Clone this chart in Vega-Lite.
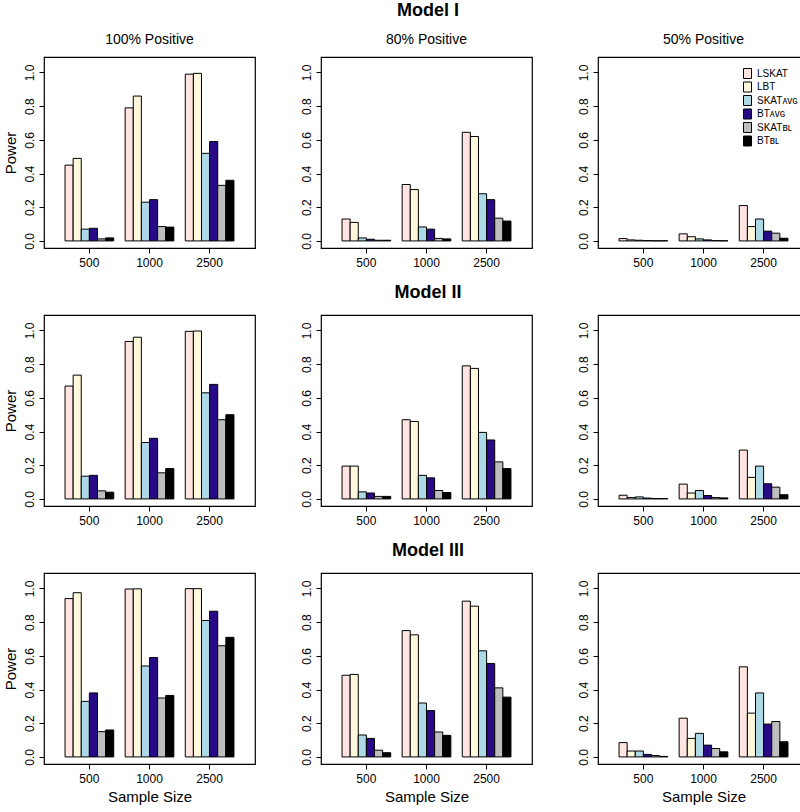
{
  "$schema": "https://vega.github.io/schema/vega-lite/v6.json",
  "padding": {"left": 2, "top": 2, "right": 2, "bottom": 2},
  "background": "white",
  "datasets": {
    "I_100": [
      {"size": 500, "test": "LSKAT", "power": 0.45}, {"size": 500, "test": "LBT", "power": 0.49}, {"size": 500, "test": "SKAT_AVG", "power": 0.07}, {"size": 500, "test": "BT_AVG", "power": 0.075}, {"size": 500, "test": "SKAT_BL", "power": 0.012}, {"size": 500, "test": "BT_BL", "power": 0.018},
      {"size": 1000, "test": "LSKAT", "power": 0.79}, {"size": 1000, "test": "LBT", "power": 0.86}, {"size": 1000, "test": "SKAT_AVG", "power": 0.23}, {"size": 1000, "test": "BT_AVG", "power": 0.245}, {"size": 1000, "test": "SKAT_BL", "power": 0.085}, {"size": 1000, "test": "BT_BL", "power": 0.082},
      {"size": 2500, "test": "LSKAT", "power": 0.99}, {"size": 2500, "test": "LBT", "power": 0.995}, {"size": 2500, "test": "SKAT_AVG", "power": 0.52}, {"size": 2500, "test": "BT_AVG", "power": 0.59}, {"size": 2500, "test": "SKAT_BL", "power": 0.33}, {"size": 2500, "test": "BT_BL", "power": 0.36}
    ],
    "I_80": [
      {"size": 500, "test": "LSKAT", "power": 0.13}, {"size": 500, "test": "LBT", "power": 0.11}, {"size": 500, "test": "SKAT_AVG", "power": 0.018}, {"size": 500, "test": "BT_AVG", "power": 0.01}, {"size": 500, "test": "SKAT_BL", "power": 0.004}, {"size": 500, "test": "BT_BL", "power": 0.004},
      {"size": 1000, "test": "LSKAT", "power": 0.335}, {"size": 1000, "test": "LBT", "power": 0.305}, {"size": 1000, "test": "SKAT_AVG", "power": 0.083}, {"size": 1000, "test": "BT_AVG", "power": 0.07}, {"size": 1000, "test": "SKAT_BL", "power": 0.015}, {"size": 1000, "test": "BT_BL", "power": 0.012},
      {"size": 2500, "test": "LSKAT", "power": 0.645}, {"size": 2500, "test": "LBT", "power": 0.62}, {"size": 2500, "test": "SKAT_AVG", "power": 0.28}, {"size": 2500, "test": "BT_AVG", "power": 0.245}, {"size": 2500, "test": "SKAT_BL", "power": 0.135}, {"size": 2500, "test": "BT_BL", "power": 0.118}
    ],
    "I_50": [
      {"size": 500, "test": "LSKAT", "power": 0.014}, {"size": 500, "test": "LBT", "power": 0.006}, {"size": 500, "test": "SKAT_AVG", "power": 0.004}, {"size": 500, "test": "BT_AVG", "power": 0.002}, {"size": 500, "test": "SKAT_BL", "power": 0.001}, {"size": 500, "test": "BT_BL", "power": 0.001},
      {"size": 1000, "test": "LSKAT", "power": 0.042}, {"size": 1000, "test": "LBT", "power": 0.025}, {"size": 1000, "test": "SKAT_AVG", "power": 0.012}, {"size": 1000, "test": "BT_AVG", "power": 0.006}, {"size": 1000, "test": "SKAT_BL", "power": 0.002}, {"size": 1000, "test": "BT_BL", "power": 0.001},
      {"size": 2500, "test": "LSKAT", "power": 0.21}, {"size": 2500, "test": "LBT", "power": 0.085}, {"size": 2500, "test": "SKAT_AVG", "power": 0.13}, {"size": 2500, "test": "BT_AVG", "power": 0.058}, {"size": 2500, "test": "SKAT_BL", "power": 0.046}, {"size": 2500, "test": "BT_BL", "power": 0.016}
    ],
    "II_100": [
      {"size": 500, "test": "LSKAT", "power": 0.67}, {"size": 500, "test": "LBT", "power": 0.735}, {"size": 500, "test": "SKAT_AVG", "power": 0.135}, {"size": 500, "test": "BT_AVG", "power": 0.14}, {"size": 500, "test": "SKAT_BL", "power": 0.048}, {"size": 500, "test": "BT_BL", "power": 0.04},
      {"size": 1000, "test": "LSKAT", "power": 0.935}, {"size": 1000, "test": "LBT", "power": 0.96}, {"size": 1000, "test": "SKAT_AVG", "power": 0.335}, {"size": 1000, "test": "BT_AVG", "power": 0.36}, {"size": 1000, "test": "SKAT_BL", "power": 0.155}, {"size": 1000, "test": "BT_BL", "power": 0.18},
      {"size": 2500, "test": "LSKAT", "power": 0.995}, {"size": 2500, "test": "LBT", "power": 0.997}, {"size": 2500, "test": "SKAT_AVG", "power": 0.63}, {"size": 2500, "test": "BT_AVG", "power": 0.68}, {"size": 2500, "test": "SKAT_BL", "power": 0.47}, {"size": 2500, "test": "BT_BL", "power": 0.5}
    ],
    "II_80": [
      {"size": 500, "test": "LSKAT", "power": 0.195}, {"size": 500, "test": "LBT", "power": 0.195}, {"size": 500, "test": "SKAT_AVG", "power": 0.042}, {"size": 500, "test": "BT_AVG", "power": 0.035}, {"size": 500, "test": "SKAT_BL", "power": 0.015}, {"size": 500, "test": "BT_BL", "power": 0.015},
      {"size": 1000, "test": "LSKAT", "power": 0.47}, {"size": 1000, "test": "LBT", "power": 0.46}, {"size": 1000, "test": "SKAT_AVG", "power": 0.14}, {"size": 1000, "test": "BT_AVG", "power": 0.125}, {"size": 1000, "test": "SKAT_BL", "power": 0.05}, {"size": 1000, "test": "BT_BL", "power": 0.038},
      {"size": 2500, "test": "LSKAT", "power": 0.79}, {"size": 2500, "test": "LBT", "power": 0.775}, {"size": 2500, "test": "SKAT_AVG", "power": 0.395}, {"size": 2500, "test": "BT_AVG", "power": 0.35}, {"size": 2500, "test": "SKAT_BL", "power": 0.22}, {"size": 2500, "test": "BT_BL", "power": 0.18}
    ],
    "II_50": [
      {"size": 500, "test": "LSKAT", "power": 0.022}, {"size": 500, "test": "LBT", "power": 0.008}, {"size": 500, "test": "SKAT_AVG", "power": 0.012}, {"size": 500, "test": "BT_AVG", "power": 0.005}, {"size": 500, "test": "SKAT_BL", "power": 0.002}, {"size": 500, "test": "BT_BL", "power": 0.002},
      {"size": 1000, "test": "LSKAT", "power": 0.088}, {"size": 1000, "test": "LBT", "power": 0.035}, {"size": 1000, "test": "SKAT_AVG", "power": 0.05}, {"size": 1000, "test": "BT_AVG", "power": 0.02}, {"size": 1000, "test": "SKAT_BL", "power": 0.008}, {"size": 1000, "test": "BT_BL", "power": 0.006},
      {"size": 2500, "test": "LSKAT", "power": 0.29}, {"size": 2500, "test": "LBT", "power": 0.128}, {"size": 2500, "test": "SKAT_AVG", "power": 0.195}, {"size": 2500, "test": "BT_AVG", "power": 0.09}, {"size": 2500, "test": "SKAT_BL", "power": 0.07}, {"size": 2500, "test": "BT_BL", "power": 0.025}
    ],
    "III_100": [
      {"size": 500, "test": "LSKAT", "power": 0.94}, {"size": 500, "test": "LBT", "power": 0.975}, {"size": 500, "test": "SKAT_AVG", "power": 0.33}, {"size": 500, "test": "BT_AVG", "power": 0.38}, {"size": 500, "test": "SKAT_BL", "power": 0.15}, {"size": 500, "test": "BT_BL", "power": 0.16},
      {"size": 1000, "test": "LSKAT", "power": 0.997}, {"size": 1000, "test": "LBT", "power": 0.998}, {"size": 1000, "test": "SKAT_AVG", "power": 0.54}, {"size": 1000, "test": "BT_AVG", "power": 0.59}, {"size": 1000, "test": "SKAT_BL", "power": 0.35}, {"size": 1000, "test": "BT_BL", "power": 0.365},
      {"size": 2500, "test": "LSKAT", "power": 0.999}, {"size": 2500, "test": "LBT", "power": 0.999}, {"size": 2500, "test": "SKAT_AVG", "power": 0.81}, {"size": 2500, "test": "BT_AVG", "power": 0.865}, {"size": 2500, "test": "SKAT_BL", "power": 0.66}, {"size": 2500, "test": "BT_BL", "power": 0.71}
    ],
    "III_80": [
      {"size": 500, "test": "LSKAT", "power": 0.485}, {"size": 500, "test": "LBT", "power": 0.49}, {"size": 500, "test": "SKAT_AVG", "power": 0.13}, {"size": 500, "test": "BT_AVG", "power": 0.11}, {"size": 500, "test": "SKAT_BL", "power": 0.04}, {"size": 500, "test": "BT_BL", "power": 0.025},
      {"size": 1000, "test": "LSKAT", "power": 0.75}, {"size": 1000, "test": "LBT", "power": 0.725}, {"size": 1000, "test": "SKAT_AVG", "power": 0.32}, {"size": 1000, "test": "BT_AVG", "power": 0.275}, {"size": 1000, "test": "SKAT_BL", "power": 0.148}, {"size": 1000, "test": "BT_BL", "power": 0.128},
      {"size": 2500, "test": "LSKAT", "power": 0.925}, {"size": 2500, "test": "LBT", "power": 0.895}, {"size": 2500, "test": "SKAT_AVG", "power": 0.63}, {"size": 2500, "test": "BT_AVG", "power": 0.555}, {"size": 2500, "test": "SKAT_BL", "power": 0.41}, {"size": 2500, "test": "BT_BL", "power": 0.355}
    ],
    "III_50": [
      {"size": 500, "test": "LSKAT", "power": 0.085}, {"size": 500, "test": "LBT", "power": 0.035}, {"size": 500, "test": "SKAT_AVG", "power": 0.035}, {"size": 500, "test": "BT_AVG", "power": 0.015}, {"size": 500, "test": "SKAT_BL", "power": 0.008}, {"size": 500, "test": "BT_BL", "power": 0.003},
      {"size": 1000, "test": "LSKAT", "power": 0.23}, {"size": 1000, "test": "LBT", "power": 0.11}, {"size": 1000, "test": "SKAT_AVG", "power": 0.14}, {"size": 1000, "test": "BT_AVG", "power": 0.07}, {"size": 1000, "test": "SKAT_BL", "power": 0.05}, {"size": 1000, "test": "BT_BL", "power": 0.03},
      {"size": 2500, "test": "LSKAT", "power": 0.535}, {"size": 2500, "test": "LBT", "power": 0.26}, {"size": 2500, "test": "SKAT_AVG", "power": 0.38}, {"size": 2500, "test": "BT_AVG", "power": 0.195}, {"size": 2500, "test": "SKAT_BL", "power": 0.21}, {"size": 2500, "test": "BT_BL", "power": 0.09}
    ]
  },
  "resolve": {"scale": {"color": "independent"}, "legend": {"color": "independent"}},
  "spacing": 15,
  "vconcat": [
    {
      "title": {"text": "Model I", "fontSize": 18, "fontWeight": "bold", "anchor": "middle", "offset": 12, "dx": 22},
      "spacing": 43,
      "resolve": {"scale": {"color": "independent"}, "legend": {"color": "independent"}},
      "hconcat": [
        {"title": "100% Positive", "width": 211, "height": 191, "data": {"name": "I_100"},
         "mark": {"type": "bar", "stroke": "black", "strokeWidth": 1},
         "encoding": {
           "x": {"field": "size", "type": "ordinal", "sort": [500, 1000, 2500], "scale": {"paddingInner": 0.19, "paddingOuter": 0.35}, "axis": {"title": null}},
           "xOffset": {"field": "test", "type": "nominal", "scale": {"domain": ["LSKAT", "LBT", "SKAT_AVG", "BT_AVG", "SKAT_BL", "BT_BL"], "paddingInner": 0, "paddingOuter": 0}},
           "y": {"field": "power", "type": "quantitative", "scale": {"domain": [-0.042, 1.092], "nice": false, "zero": false}, "axis": {"title": "Power"}},
           "y2": {"datum": 0},
           "color": {"field": "test", "type": "nominal", "scale": {"domain": ["LSKAT", "LBT", "SKAT_AVG", "BT_AVG", "SKAT_BL", "BT_BL"], "range": ["#FFE4E1", "#FFF8DC", "#ADD8E6", "#280A86", "#BEBEBE", "#000000"]}, "legend": null}
         }},
        {"title": "80% Positive", "width": 211, "height": 191, "data": {"name": "I_80"},
         "mark": {"type": "bar", "stroke": "black", "strokeWidth": 1},
         "encoding": {
           "x": {"field": "size", "type": "ordinal", "sort": [500, 1000, 2500], "scale": {"paddingInner": 0.19, "paddingOuter": 0.35}, "axis": {"title": null}},
           "xOffset": {"field": "test", "type": "nominal", "scale": {"domain": ["LSKAT", "LBT", "SKAT_AVG", "BT_AVG", "SKAT_BL", "BT_BL"], "paddingInner": 0, "paddingOuter": 0}},
           "y": {"field": "power", "type": "quantitative", "scale": {"domain": [-0.042, 1.092], "nice": false, "zero": false}, "axis": {"title": null}},
           "y2": {"datum": 0},
           "color": {"field": "test", "type": "nominal", "scale": {"domain": ["LSKAT", "LBT", "SKAT_AVG", "BT_AVG", "SKAT_BL", "BT_BL"], "range": ["#FFE4E1", "#FFF8DC", "#ADD8E6", "#280A86", "#BEBEBE", "#000000"]}, "legend": null}
         }},
        {"title": "50% Positive", "width": 211, "height": 191, "data": {"name": "I_50"},
         "mark": {"type": "bar", "stroke": "black", "strokeWidth": 1},
         "encoding": {
           "x": {"field": "size", "type": "ordinal", "sort": [500, 1000, 2500], "scale": {"paddingInner": 0.19, "paddingOuter": 0.35}, "axis": {"title": null}},
           "xOffset": {"field": "test", "type": "nominal", "scale": {"domain": ["LSKAT", "LBT", "SKAT_AVG", "BT_AVG", "SKAT_BL", "BT_BL"], "paddingInner": 0, "paddingOuter": 0}},
           "y": {"field": "power", "type": "quantitative", "scale": {"domain": [-0.042, 1.092], "nice": false, "zero": false}, "axis": {"title": null}},
           "y2": {"datum": 0},
           "color": {"field": "test", "type": "nominal", "scale": {"domain": ["LSKAT", "LBT", "SKAT_AVG", "BT_AVG", "SKAT_BL", "BT_BL"], "range": ["#FFE4E1", "#FFF8DC", "#ADD8E6", "#280A86", "#BEBEBE", "#000000"]},
             "legend": {"orient": "top-right", "title": null, "offset": 11, "padding": 0, "symbolType": "M-0.8,-1H0.8V1H-0.8Z", "symbolSize": 100, "symbolStrokeColor": "black", "symbolStrokeWidth": 1, "symbolOpacity": 1, "labelFontSize": 10, "labelColor": "black", "rowPadding": -1.5, "labelOffset": 4,
               "labelExpr": "replace(replace(datum.label, '_AVG', 'ᴀᴠɢ'), '_BL', 'ʙʟ')"}}
         }}
      ]
    },
    {
      "title": {"text": "Model II", "fontSize": 18, "fontWeight": "bold", "anchor": "middle", "offset": 12, "dx": 22},
      "spacing": 43,
      "hconcat": [
        {"width": 211, "height": 191, "data": {"name": "II_100"},
         "mark": {"type": "bar", "stroke": "black", "strokeWidth": 1},
         "encoding": {
           "x": {"field": "size", "type": "ordinal", "sort": [500, 1000, 2500], "scale": {"paddingInner": 0.19, "paddingOuter": 0.35}, "axis": {"title": null}},
           "xOffset": {"field": "test", "type": "nominal", "scale": {"domain": ["LSKAT", "LBT", "SKAT_AVG", "BT_AVG", "SKAT_BL", "BT_BL"], "paddingInner": 0, "paddingOuter": 0}},
           "y": {"field": "power", "type": "quantitative", "scale": {"domain": [-0.042, 1.092], "nice": false, "zero": false}, "axis": {"title": "Power"}},
           "y2": {"datum": 0},
           "color": {"field": "test", "type": "nominal", "scale": {"domain": ["LSKAT", "LBT", "SKAT_AVG", "BT_AVG", "SKAT_BL", "BT_BL"], "range": ["#FFE4E1", "#FFF8DC", "#ADD8E6", "#280A86", "#BEBEBE", "#000000"]}, "legend": null}
         }},
        {"width": 211, "height": 191, "data": {"name": "II_80"},
         "mark": {"type": "bar", "stroke": "black", "strokeWidth": 1},
         "encoding": {
           "x": {"field": "size", "type": "ordinal", "sort": [500, 1000, 2500], "scale": {"paddingInner": 0.19, "paddingOuter": 0.35}, "axis": {"title": null}},
           "xOffset": {"field": "test", "type": "nominal", "scale": {"domain": ["LSKAT", "LBT", "SKAT_AVG", "BT_AVG", "SKAT_BL", "BT_BL"], "paddingInner": 0, "paddingOuter": 0}},
           "y": {"field": "power", "type": "quantitative", "scale": {"domain": [-0.042, 1.092], "nice": false, "zero": false}, "axis": {"title": null}},
           "y2": {"datum": 0},
           "color": {"field": "test", "type": "nominal", "scale": {"domain": ["LSKAT", "LBT", "SKAT_AVG", "BT_AVG", "SKAT_BL", "BT_BL"], "range": ["#FFE4E1", "#FFF8DC", "#ADD8E6", "#280A86", "#BEBEBE", "#000000"]}, "legend": null}
         }},
        {"width": 211, "height": 191, "data": {"name": "II_50"},
         "mark": {"type": "bar", "stroke": "black", "strokeWidth": 1},
         "encoding": {
           "x": {"field": "size", "type": "ordinal", "sort": [500, 1000, 2500], "scale": {"paddingInner": 0.19, "paddingOuter": 0.35}, "axis": {"title": null}},
           "xOffset": {"field": "test", "type": "nominal", "scale": {"domain": ["LSKAT", "LBT", "SKAT_AVG", "BT_AVG", "SKAT_BL", "BT_BL"], "paddingInner": 0, "paddingOuter": 0}},
           "y": {"field": "power", "type": "quantitative", "scale": {"domain": [-0.042, 1.092], "nice": false, "zero": false}, "axis": {"title": null}},
           "y2": {"datum": 0},
           "color": {"field": "test", "type": "nominal", "scale": {"domain": ["LSKAT", "LBT", "SKAT_AVG", "BT_AVG", "SKAT_BL", "BT_BL"], "range": ["#FFE4E1", "#FFF8DC", "#ADD8E6", "#280A86", "#BEBEBE", "#000000"]}, "legend": null}
         }}
      ]
    },
    {
      "title": {"text": "Model III", "fontSize": 18, "fontWeight": "bold", "anchor": "middle", "offset": 12, "dx": 22},
      "spacing": 43,
      "hconcat": [
        {"width": 211, "height": 191, "data": {"name": "III_100"},
         "mark": {"type": "bar", "stroke": "black", "strokeWidth": 1},
         "encoding": {
           "x": {"field": "size", "type": "ordinal", "sort": [500, 1000, 2500], "scale": {"paddingInner": 0.19, "paddingOuter": 0.35}, "axis": {"title": "Sample Size"}},
           "xOffset": {"field": "test", "type": "nominal", "scale": {"domain": ["LSKAT", "LBT", "SKAT_AVG", "BT_AVG", "SKAT_BL", "BT_BL"], "paddingInner": 0, "paddingOuter": 0}},
           "y": {"field": "power", "type": "quantitative", "scale": {"domain": [-0.042, 1.092], "nice": false, "zero": false}, "axis": {"title": "Power"}},
           "y2": {"datum": 0},
           "color": {"field": "test", "type": "nominal", "scale": {"domain": ["LSKAT", "LBT", "SKAT_AVG", "BT_AVG", "SKAT_BL", "BT_BL"], "range": ["#FFE4E1", "#FFF8DC", "#ADD8E6", "#280A86", "#BEBEBE", "#000000"]}, "legend": null}
         }},
        {"width": 211, "height": 191, "data": {"name": "III_80"},
         "mark": {"type": "bar", "stroke": "black", "strokeWidth": 1},
         "encoding": {
           "x": {"field": "size", "type": "ordinal", "sort": [500, 1000, 2500], "scale": {"paddingInner": 0.19, "paddingOuter": 0.35}, "axis": {"title": "Sample Size"}},
           "xOffset": {"field": "test", "type": "nominal", "scale": {"domain": ["LSKAT", "LBT", "SKAT_AVG", "BT_AVG", "SKAT_BL", "BT_BL"], "paddingInner": 0, "paddingOuter": 0}},
           "y": {"field": "power", "type": "quantitative", "scale": {"domain": [-0.042, 1.092], "nice": false, "zero": false}, "axis": {"title": null}},
           "y2": {"datum": 0},
           "color": {"field": "test", "type": "nominal", "scale": {"domain": ["LSKAT", "LBT", "SKAT_AVG", "BT_AVG", "SKAT_BL", "BT_BL"], "range": ["#FFE4E1", "#FFF8DC", "#ADD8E6", "#280A86", "#BEBEBE", "#000000"]}, "legend": null}
         }},
        {"width": 211, "height": 191, "data": {"name": "III_50"},
         "mark": {"type": "bar", "stroke": "black", "strokeWidth": 1},
         "encoding": {
           "x": {"field": "size", "type": "ordinal", "sort": [500, 1000, 2500], "scale": {"paddingInner": 0.19, "paddingOuter": 0.35}, "axis": {"title": "Sample Size"}},
           "xOffset": {"field": "test", "type": "nominal", "scale": {"domain": ["LSKAT", "LBT", "SKAT_AVG", "BT_AVG", "SKAT_BL", "BT_BL"], "paddingInner": 0, "paddingOuter": 0}},
           "y": {"field": "power", "type": "quantitative", "scale": {"domain": [-0.042, 1.092], "nice": false, "zero": false}, "axis": {"title": null}},
           "y2": {"datum": 0},
           "color": {"field": "test", "type": "nominal", "scale": {"domain": ["LSKAT", "LBT", "SKAT_AVG", "BT_AVG", "SKAT_BL", "BT_BL"], "range": ["#FFE4E1", "#FFF8DC", "#ADD8E6", "#280A86", "#BEBEBE", "#000000"]}, "legend": null}
         }}
      ]
    }
  ],
  "config": {
    "font": "Liberation Sans",
    "view": {"stroke": "black", "strokeWidth": 1.2},
    "axis": {"domain": false, "grid": false, "ticks": true, "tickColor": "black", "tickSize": 5, "labelColor": "black", "labelFontSize": 12, "labelFont": "Liberation Sans", "titleColor": "black", "titleFontSize": 15, "titleFontWeight": "normal", "titleFont": "Liberation Sans"},
    "axisY": {"labelAngle": 270, "labelAlign": "center", "labelBaseline": "bottom", "labelPadding": 3, "titlePadding": 5, "values": [0, 0.2, 0.4, 0.6, 0.8, 1], "format": ".1f"},
    "axisX": {"labelAngle": 0, "labelPadding": 4, "titlePadding": 5},
    "title": {"fontSize": 14, "fontWeight": "normal", "color": "black", "offset": 10, "font": "Liberation Sans", "anchor": "middle"}
  }
}
